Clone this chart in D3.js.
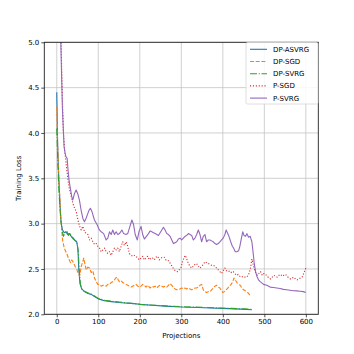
<!DOCTYPE html>
<html>
<head>
<meta charset="utf-8">
<script src="https://cdn.jsdelivr.net/npm/d3@7"></script>
<style>
  body { margin: 0; background: #fff; }
  text { font-family: "DejaVu Sans", sans-serif; fill: #000; }
</style>
</head>
<body>
<svg id="chart"></svg>
<script>
// Series: [projections, training loss]
const dpAsvrg = [[0,4.45],[2,3.9],[4,3.6],[6,3.4],[8,3.2],[10,3.04],[12,2.97],[14,2.93],[18,2.9],[22,2.91],[26,2.88],[30,2.89],[35,2.86],[40,2.84],[43,2.82],[48,2.8],[51,2.72],[53,2.5],[56,2.34],[60,2.28],[67,2.25],[75,2.23],[83,2.22],[90,2.2],[100,2.17],[115,2.15],[131,2.14],[150,2.13],[163,2.125],[180,2.12],[200,2.11],[230,2.1],[260,2.09],[300,2.08],[340,2.075],[370,2.07],[400,2.065],[430,2.06],[470,2.05]];

const dpSgd = [[0,4.29],[2,3.9],[4,3.6],[6,3.4],[8,3.23],[10,3.05],[12,2.93],[14,2.82],[18,2.73],[22,2.69],[25,2.66],[28,2.62],[33,2.57],[36,2.6],[39,2.58],[44,2.53],[48,2.5],[51,2.46],[55,2.42],[59,2.53],[62,2.57],[65,2.62],[68,2.55],[71,2.49],[75,2.52],[79,2.51],[83,2.46],[87,2.48],[91,2.4],[95,2.36],[99,2.33],[103,2.33],[107,2.31],[111,2.32],[115,2.32],[119,2.31],[123,2.33],[127,2.33],[131,2.35],[135,2.36],[139,2.38],[142,2.4],[145,2.41],[148,2.38],[151,2.36],[155,2.37],[159,2.35],[163,2.34],[167,2.33],[171,2.32],[175,2.31],[179,2.3],[183,2.31],[187,2.32],[191,2.33],[195,2.31],[199,2.3],[203,2.31],[207,2.33],[211,2.32],[215,2.3],[219,2.32],[225,2.29],[229,2.31],[233,2.3],[237,2.31],[241,2.29],[245,2.31],[249,2.32],[253,2.31],[257,2.3],[261,2.31],[265,2.3],[269,2.32],[273,2.34],[277,2.32],[281,2.3],[285,2.28],[289,2.27],[293,2.27],[297,2.28],[301,2.29],[305,2.28],[309,2.29],[313,2.28],[317,2.29],[321,2.28],[325,2.27],[329,2.28],[333,2.29],[337,2.29],[341,2.3],[345,2.32],[349,2.33],[353,2.27],[357,2.25],[361,2.24],[365,2.25],[369,2.25],[373,2.27],[377,2.29],[381,2.31],[385,2.32],[389,2.3],[393,2.29],[397,2.26],[400,2.24],[404,2.25],[408,2.27],[412,2.29],[416,2.31],[420,2.33],[424,2.36],[427,2.4],[430,2.38],[434,2.35],[438,2.33],[442,2.32],[446,2.29],[450,2.27],[454,2.26],[458,2.25],[462,2.23],[467,2.2]];

const dpSvrg = [[0,4.05],[2,3.75],[4,3.5],[6,3.3],[8,3.15],[10,3.03],[13,2.92],[16,2.86],[20,2.9],[24,2.92],[28,2.87],[32,2.9],[36,2.85],[40,2.83],[45,2.81],[49,2.79],[52,2.68],[54,2.5],[57,2.33],[61,2.27],[68,2.25],[76,2.235],[84,2.22],[92,2.2],[100,2.175],[115,2.155],[130,2.145],[150,2.135],[170,2.125],[190,2.115],[210,2.105],[240,2.1],[270,2.09],[300,2.085],[330,2.08],[360,2.075],[390,2.07],[420,2.065],[450,2.06],[470,2.055]];

const pSgd = [[6,6.5],[10,5.1],[13,4.47],[16,4.0],[19,3.81],[24,3.6],[27,3.48],[31,3.37],[35,3.3],[39,3.22],[43,3.17],[47,3.13],[51,3.04],[55,2.97],[59,2.93],[63,2.97],[67,2.91],[71,2.89],[75,2.88],[79,2.82],[83,2.84],[87,2.8],[91,2.77],[95,2.78],[99,2.75],[103,2.73],[107,2.69],[111,2.71],[115,2.73],[119,2.69],[123,2.67],[127,2.69],[131,2.65],[135,2.69],[139,2.73],[143,2.71],[147,2.73],[151,2.69],[155,2.75],[159,2.8],[163,2.76],[167,2.8],[171,2.75],[175,2.67],[179,2.65],[183,2.64],[187,2.65],[191,2.64],[195,2.62],[199,2.6],[203,2.62],[207,2.64],[211,2.6],[215,2.62],[219,2.64],[223,2.6],[227,2.62],[231,2.62],[235,2.6],[239,2.63],[243,2.64],[247,2.6],[251,2.62],[255,2.63],[259,2.63],[263,2.6],[267,2.6],[271,2.58],[275,2.55],[279,2.52],[283,2.49],[287,2.48],[291,2.47],[295,2.49],[299,2.51],[303,2.58],[307,2.63],[310,2.65],[313,2.61],[317,2.56],[321,2.53],[325,2.51],[329,2.53],[333,2.55],[337,2.56],[341,2.53],[345,2.51],[349,2.53],[353,2.55],[357,2.58],[361,2.57],[365,2.56],[369,2.55],[373,2.54],[377,2.54],[381,2.53],[385,2.51],[389,2.49],[393,2.47],[397,2.45],[401,2.48],[405,2.51],[409,2.48],[413,2.47],[417,2.48],[421,2.46],[425,2.47],[429,2.45],[433,2.43],[437,2.44],[441,2.42],[445,2.41],[449,2.42],[453,2.41],[457,2.41],[461,2.43],[464,2.46],[467,2.52],[470,2.61],[473,2.55],[476,2.5],[479,2.46],[483,2.43],[487,2.45],[491,2.47],[495,2.43],[499,2.45],[503,2.44],[507,2.42],[511,2.4],[515,2.39],[519,2.41],[523,2.43],[527,2.42],[531,2.41],[535,2.43],[539,2.44],[543,2.42],[547,2.43],[551,2.44],[555,2.42],[559,2.4],[563,2.39],[567,2.4],[571,2.41],[575,2.39],[579,2.38],[583,2.39],[587,2.4],[591,2.41],[595,2.45],[598,2.49],[600,2.51]];

const pSvrg = [[5,6.5],[9.6,5.02],[13.5,4.29],[17.6,3.85],[20,3.78],[22,3.74],[25,3.72],[27,3.6],[29.6,3.48],[32,3.41],[36,3.3],[38.5,3.26],[42.6,3.33],[46.6,3.37],[50.6,3.33],[54.6,3.26],[58.6,3.15],[62.7,3.06],[66.7,3.02],[70.7,3.06],[74.7,3.11],[78,3.15],[81,3.17],[85,3.13],[90.8,3.04],[97,2.99],[102.8,2.93],[107,2.91],[113,2.89],[119,2.82],[123,2.84],[127,2.91],[131,2.88],[135,2.93],[139,2.88],[143,2.91],[147,2.88],[151,2.89],[157,2.93],[161,2.89],[167,2.88],[171,2.89],[175,2.95],[181,3.04],[185,2.99],[189,2.88],[194,2.82],[198,2.91],[203,2.97],[207,2.88],[211,2.83],[216,2.86],[221,2.89],[225,2.92],[229,2.91],[233,2.9],[237,2.89],[241,2.88],[245,2.87],[249,2.9],[253,2.93],[257,2.96],[261,2.93],[265,2.89],[269,2.88],[273,2.86],[277,2.82],[281,2.78],[285,2.79],[289,2.8],[293,2.83],[297,2.84],[301,2.82],[305,2.84],[309,2.86],[313,2.87],[317,2.89],[321,2.88],[325,2.87],[329,2.82],[333,2.84],[337,2.88],[341,2.93],[345,2.88],[349,2.8],[353,2.86],[357,2.88],[361,2.8],[365,2.82],[369,2.82],[373,2.81],[377,2.8],[381,2.78],[385,2.77],[389,2.78],[393,2.8],[397,2.82],[401,2.84],[405,2.88],[408,2.93],[411,2.9],[414,2.87],[419,2.8],[423,2.75],[426,2.73],[430,2.69],[434,2.69],[438,2.7],[441,2.75],[444,2.82],[448,2.91],[451,2.87],[455,2.86],[458,2.89],[462,2.85],[466,2.86],[470,2.8],[473,2.68],[476,2.55],[479,2.47],[482,2.42],[486,2.38],[490,2.36],[498,2.33],[506,2.32],[514,2.3],[522,2.295],[530,2.29],[538,2.285],[546,2.275],[554,2.27],[562,2.265],[570,2.26],[578,2.258],[586,2.255],[594,2.25],[600,2.24]];

const seriesNames = ['DP-ASVRG', 'DP-SGD', 'DP-SVRG', 'P-SGD', 'P-SVRG'];
const xTicks = [0, 100, 200, 300, 400, 500, 600];
const yTicks = [2.0, 2.5, 3.0, 3.5, 4.0, 4.5, 5.0];

// layout
const WIDTH = 354;
const HEIGHT = 354;
const LEFT = 44.3;
const RIGHT = 318.3;
const TOP = 42.3;
const BOTTOM = 314.3;
const FONT_SIZE = 7;
const LINE_WIDTH = 1.1;

const styles = [
	{ color: '#1f77b4', dash: null },
	{ color: '#ff7f0e', dash: '4,1.7' },
	{ color: '#2ca02c', dash: '7,1.7,1.1,1.7' },
	{ color: '#d62728', dash: '1.1,1.8' },
	{ color: '#9467bd', dash: null },
];

const allSeries = [dpAsvrg, dpSgd, dpSvrg, pSgd, pSvrg];

const svg = d3.select('#chart')
	.attr('width', WIDTH)
	.attr('height', HEIGHT);

const x = d3.scaleLinear().domain([-30, 630]).range([LEFT, RIGHT]);
const y = d3.scaleLinear().domain([2, 5]).range([BOTTOM, TOP]);

// grid
const grid = svg.append('g');
grid.selectAll('.gx')
	.data(xTicks)
	.enter()
	.append('line')
	.attr('x1', d => x(d)).attr('x2', d => x(d))
	.attr('y1', TOP).attr('y2', BOTTOM)
	.attr('stroke', '#c4c4c4').attr('stroke-width', 0.8);
grid.selectAll('.gy')
	.data(yTicks)
	.enter()
	.append('line')
	.attr('x1', LEFT).attr('x2', RIGHT)
	.attr('y1', d => y(d)).attr('y2', d => y(d))
	.attr('stroke', '#c4c4c4').attr('stroke-width', 0.8);

// clip
svg.append('clipPath').attr('id', 'plot-clip')
	.append('rect')
	.attr('x', LEFT).attr('y', TOP)
	.attr('width', RIGHT - LEFT).attr('height', BOTTOM - TOP);

const line = d3.line()
	.x(d => x(d[0]))
	.y(d => y(d[1]));

svg.append('g')
	.attr('clip-path', 'url(#plot-clip)')
	.selectAll('path')
	.data(allSeries)
	.enter()
	.append('path')
	.attr('d', line)
	.attr('fill', 'none')
	.attr('stroke', (_, i) => styles[i].color)
	.attr('stroke-width', LINE_WIDTH)
	.attr('stroke-dasharray', (_, i) => styles[i].dash)
	.attr('stroke-linejoin', 'round');

// axes
const xAxis = svg.append('g')
	.attr('transform', `translate(0, ${BOTTOM})`)
	.call(d3.axisBottom(x).tickValues(xTicks).tickSize(3).tickPadding(2));
const yAxis = svg.append('g')
	.attr('transform', `translate(${LEFT}, 0)`)
	.call(d3.axisLeft(y).tickValues(yTicks).tickFormat(d3.format('.1f')).tickSize(3).tickPadding(2));

[xAxis, yAxis].forEach(axis => {
	axis.select('.domain').remove();
	axis.selectAll('text').attr('font-size', FONT_SIZE).attr('font-family', '"DejaVu Sans", sans-serif').attr('fill', '#000');
	axis.selectAll('line').attr('stroke', '#222').attr('stroke-width', 0.8);
});

// frame
svg.append('rect')
	.attr('x', LEFT).attr('y', TOP)
	.attr('width', RIGHT - LEFT).attr('height', BOTTOM - TOP)
	.attr('fill', 'none')
	.attr('stroke', '#222')
	.attr('stroke-width', 0.9);

// axis labels
svg.append('text')
	.attr('x', (LEFT + RIGHT) / 2)
	.attr('y', 338)
	.attr('text-anchor', 'middle')
	.attr('font-size', FONT_SIZE)
	.text('Projections');
svg.append('text')
	.attr('transform', `translate(20.5, ${(TOP + BOTTOM) / 2}) rotate(-90)`)
	.attr('text-anchor', 'middle')
	.attr('font-size', FONT_SIZE)
	.text('Training Loss');

// legend
const legend = svg.append('g');
legend.append('rect')
	.attr('x', 246).attr('y', 42.5)
	.attr('width', 72).attr('height', 61.5)
	.attr('rx', 1.5)
	.attr('fill', 'rgba(255,255,255,0.85)')
	.attr('stroke', '#d6d6d6')
	.attr('stroke-width', 0.8);

const legendItems = legend.selectAll('.item')
	.data(seriesNames)
	.enter()
	.append('g')
	.attr('transform', (_, i) => `translate(0, ${49.3 + i * 12.2})`);
legendItems.append('line')
	.attr('x1', 250).attr('x2', 267)
	.attr('stroke', (_, i) => styles[i].color)
	.attr('stroke-width', LINE_WIDTH)
	.attr('stroke-dasharray', (_, i) => styles[i].dash);
legendItems.append('text')
	.attr('x', 273)
	.attr('dy', '0.35em')
	.attr('font-size', FONT_SIZE)
	.text(d => d);
</script>
</body>
</html>
